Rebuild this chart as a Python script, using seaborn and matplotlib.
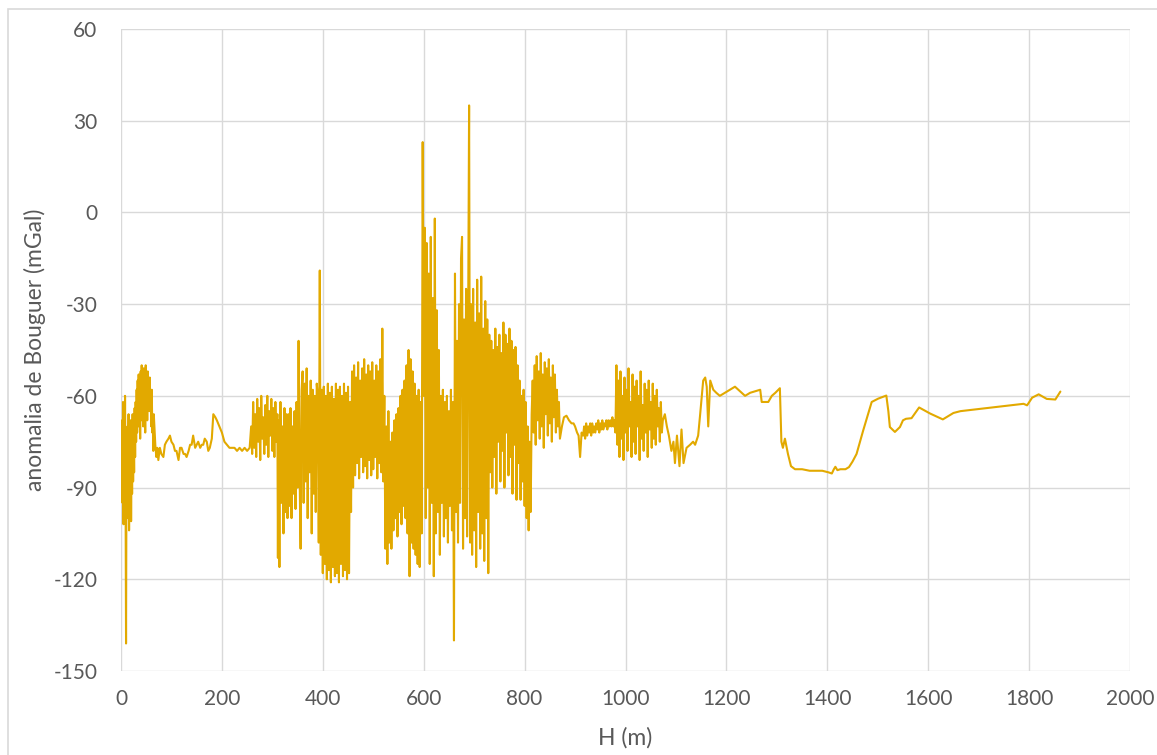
import matplotlib
matplotlib.use("Agg")
import matplotlib.pyplot as plt
import seaborn as sns
import pandas as pd
from matplotlib.patches import Rectangle

# H (m) / Bouguer anomaly (mGal)
h_start = [0, 1, 2, 3, 4, 5, 6, 7, 8, 9, 10, 11, 12, 13, 14, 15, 16, 17, 18, 19, 20,
           21, 22, 23, 24, 25, 26, 27, 28, 29, 30, 31, 32, 33, 34, 35, 36, 37, 38, 39, 40,
           41, 42, 43, 44, 45, 46, 47, 48, 49, 50, 51, 52, 53, 54, 55, 56, 57, 58, 59, 60,
           61, 62, 63, 64, 65]
g_start = [-70, -88, -68, -95, -62, -102, -72, -98, -60, -90, -141, -75, -100, -70, -93,
           -66, -104, -74, -96, -68, -101, -78, -92, -66, -88, -72, -85, -64, -80,
           -62, -75, -58, -72, -55, -70, -53, -66, -56, -74, -52, -68, -50, -64, -55, -70,
           -51, -62, -54, -72, -50, -60, -53, -68, -52, -58, -56, -65, -54, -62, -60, -70,
           -58, -72, -68, -78, -66]

h_flat = [68, 70, 72, 74, 77, 80, 84, 87, 90, 94, 97, 100, 104, 107, 110, 114, 117, 120,
          124, 127, 130, 134, 137, 140, 143, 147, 150, 153, 157, 160, 163, 166, 170, 173,
          176, 180, 183, 187, 190, 195, 200, 205, 210, 215, 220, 225, 230, 235, 240, 245,
          250, 255]
g_flat = [-76, -80, -77, -81, -77, -79, -80, -76, -75, -74, -73, -75, -76, -78, -78, -81,
          -77, -77, -79, -79, -80, -78, -76, -76, -73, -77, -76, -75, -77, -76, -76, -74,
          -75, -78, -77, -74, -66, -67, -68, -70, -72, -75, -76, -77, -77, -77, -78, -77,
          -78, -77, -78, -77]

h_300 = [258, 260, 262, 264, 266, 268, 270, 272, 274, 276, 278, 280, 282, 284, 286, 288,
         290, 292, 294, 296, 298, 300, 302, 304, 306, 308, 310,
         311, 312, 314, 316, 318, 320, 322, 324, 326, 328, 330, 332, 334, 336, 338, 340,
         342, 344, 346, 348, 350, 352, 354, 356, 358]
g_300 = [-70, -79, -62, -77, -66, -80, -61, -75, -64, -81, -60, -74, -67, -79, -63, -76,
         -60, -80, -65, -73, -61, -78, -64, -80, -62, -75, -66,
         -113, -68, -116, -62, -95, -70, -105, -64, -98, -66, -100, -66, -96, -64, -100,
         -70, -92, -65, -97, -62, -90, -42, -85, -110, -58]

h_400 = [360, 362, 364, 366, 368, 370, 372, 374, 376, 378, 380, 382, 384, 386, 388,
         390, 392, 394, 396, 398, 400, 402, 404, 406, 408, 410, 412, 414, 416, 418, 420,
         422, 424, 426, 428, 430, 432, 434, 436, 438, 440, 442, 444, 446, 448, 450, 452, 454,
         456, 458, 460, 462, 464, 466, 468, 470, 472, 474, 476, 478, 480, 482, 484, 486,
         488, 490, 492, 494, 496, 498, 500, 502, 504, 506, 508, 510, 512, 514, 516, 518, 520]
g_400 = [-52, -95, -56, -88, -51, -100, -60, -85, -55, -105, -58, -92, -60, -98, -56,
         -60, -108, -19, -112, -58, -118, -57, -115, -60, -120, -56, -117, -59, -121, -57,
         -116, -61, -119, -56, -118, -58, -121, -57, -115, -60, -119, -56, -117, -59, -120,
         -57, -118, -62,
         -98, -52, -90, -50, -86, -54, -82, -49, -87, -55, -80, -51, -85, -48, -83, -53,
         -87, -50, -81, -52, -86, -49, -84, -55, -80, -50, -87, -52, -82, -48, -85, -38, -88]

h_550 = [522, 524, 526, 528, 530, 532, 534, 536, 538, 540, 542, 544, 546, 548, 550, 552,
         554, 556, 558, 560, 562, 564, 566, 568, 570, 572, 574, 576, 578, 580, 582, 584,
         586, 588, 590, 592, 594, 596]
g_550 = [-60, -110, -70, -115, -65, -108, -75,
         -110, -72, -104, -68, -100, -66, -106, -64, -98, -60, -102, -58, -96, -55, -100,
         -50, -105, -45, -119, -48, -108, -52, -110, -56, -112, -60, -115, -58, -116, -62, -105]

h_peak = [598, 600, 602, 604, 606, 608, 610, 612, 614, 616, 618, 620, 622, 624, 626, 628,
          630, 632, 634, 636, 638, 640, 642, 644, 646, 648, 650, 652, 654, 656, 658, 660,
          662, 664, 666, 668, 670, 672, 674, 676, 678, 680, 682, 684, 686, 688, 690, 692,
          694, 696, 698, 700, 702, 704, 706, 708, 710, 712, 714, 716, 718, 720, 722, 724,
          726, 728, 730,
          732, 734, 736, 738, 740, 742, 744, 746, 748, 750, 752, 754, 756, 758, 760, 762,
          764, 766, 768, 770, 772, 774, 776, 778, 780, 782, 784, 786, 788, 790, 792, 794,
          796, 798, 800]
g_peak = [23, -60, -5, -100, -10, -90, -20, -115, -8, -95, -28, -119, -2, -105, -32, -98,
          -45, -112, -60, -95, -58, -106, -62, -100, -60, -108, -65, -96, -58, -104, -62, -140,
          -20, -98, -42, -108, -30, -95, -15, -8, -110, -35, -100, -25, -106, -40, 35, -108,
          -30, -112, -25, -104, -36, -116, -22, -98, -33, -110, -21, -105, -38, -114, -29, -100,
          -35, -118, -40,
          -85, -42, -90, -45, -80, -38, -92, -44, -75, -40, -88, -46, -78, -36, -90, -40,
          -72, -43, -86, -38, -80, -42, -92, -45, -76, -44, -94, -50, -82, -55, -94, -60,
          -88, -58, -96]

h_850 = [802, 804, 806, 808, 810, 812, 814, 816, 818, 820, 822, 824, 826, 828, 830, 832,
         834, 836, 838, 840, 842, 844, 846, 848, 850, 852, 854, 856, 858, 860, 862, 864,
         866, 868, 870]
g_850 = [-62, -100, -70, -104, -75, -98, -66,
         -55, -72, -50, -76, -47, -68, -52, -74, -46, -70, -53, -77, -49, -66, -51, -73,
         -48, -69, -54, -75, -50, -67, -53, -72, -58, -70, -62, -74]

h_950 = [874, 878, 883, 888, 893, 897, 900, 904, 907, 910, 913,
         916, 918, 920, 922, 924, 926, 928, 930, 932, 934, 936, 938, 940, 942, 944, 946,
         948, 950, 952, 954, 956, 958, 960, 962, 964, 966, 968, 970, 972, 974, 976, 978]
g_950 = [-70, -67, -66.5, -68, -69, -69, -70, -72, -73, -80, -72,
         -73, -70, -74, -69, -73, -70, -72, -69, -73, -69, -72, -70, -72, -69, -71, -68,
         -72, -69, -71, -68, -71, -69, -70, -68, -71, -68, -70, -68, -70, -67, -70, -68]

h_1000 = [980, 982, 984, 986, 988, 990, 992, 994, 996, 998, 1000, 1002, 1004, 1006, 1008,
          1010, 1012, 1014, 1016, 1018, 1020, 1022, 1024, 1026, 1028, 1030, 1032, 1034,
          1036, 1038, 1040, 1042, 1044, 1046, 1048, 1050, 1052, 1054, 1056, 1058, 1060,
          1062, 1064, 1066, 1068, 1070, 1072, 1074]
g_1000 = [-72, -50, -76, -55, -80, -52, -74, -60, -81, -54, -72, -58, -78, -51, -70, -62,
          -80, -53, -75, -57, -79, -55, -70, -60, -81, -52, -74, -63, -78, -56, -72, -58,
          -80, -55, -71, -62, -77, -56, -74, -60, -76, -58, -70, -64, -75, -62, -72, -68]

h_tail = [1078, 1082, 1086, 1091, 1095, 1098, 1102, 1107, 1111, 1115, 1121, 1128, 1134,
          1138, 1144, 1148, 1154, 1158, 1161, 1164, 1168, 1174, 1180, 1187,
          1197, 1207, 1217, 1227, 1237, 1247, 1257, 1267, 1270, 1276, 1283, 1290, 1297,
          1303, 1306, 1309, 1312, 1316, 1322, 1328, 1336, 1350, 1365, 1376, 1390, 1402,
          1409, 1413, 1416, 1420, 1426, 1436, 1443, 1450, 1458, 1471, 1488, 1501, 1517,
          1521, 1524, 1534, 1544, 1550, 1556, 1567, 1582, 1604, 1629, 1650, 1664, 1700,
          1740, 1789, 1796, 1806, 1819, 1835, 1852, 1862]
g_tail = [-66, -70, -73, -78, -75, -82, -73, -83, -71, -82, -77, -76, -75, -76, -73, -66,
          -55, -54, -57, -70, -55, -58, -59, -60,
          -59, -58, -57, -58.5, -60, -59, -58.5, -58, -62, -62, -62, -60, -59, -58, -57.5,
          -75, -77, -74, -79, -83, -84, -84, -84.5, -84.5, -84.5, -85, -85.4, -84, -83.2,
          -84.3, -84, -84, -83.3, -81.5, -79, -71.4, -62, -60.9, -59.9, -65, -70.2, -71.8,
          -70.2, -68, -67.5, -67.3, -63.8, -65.8, -67.7, -65.6, -65, -64.3, -63.5, -62.6,
          -63.1, -60.6, -59.5, -61, -61.2, -58.6]

x_ticks = [0, 200, 400, 600, 800, 1000, 1200, 1400, 1600, 1800, 2000]
y_ticks = [-150, -120, -90, -60, -30, 0, 30, 60]

H = h_start + h_flat + h_300 + h_400 + h_550 + h_peak + h_850 + h_950 + h_1000 + h_tail
G = g_start + g_flat + g_300 + g_400 + g_550 + g_peak + g_850 + g_950 + g_1000 + g_tail
assert len(H) == len(G)
df = pd.DataFrame({"H": H, "anom": G})

sns.set_theme(style="white")
plt.rcParams["font.family"] = ["Lato", "DejaVu Sans"]
plt.rcParams["axes.unicode_minus"] = False

fig = plt.figure(figsize=(11.57, 7.55), dpi=100)
fig.patches.append(Rectangle((8 / 1157, -0.01), 1.02, 1 - 9 / 755 + 0.01,
                             transform=fig.transFigure, fill=False,
                             edgecolor="#d9d9d9", linewidth=1.2))
ax = fig.add_axes([121 / 1157, 1 - 671 / 755, 1009 / 1157, 642 / 755])

sns.lineplot(data=df, x="H", y="anom", sort=False, estimator=None,
             color="#e2a900", linewidth=1.5, ax=ax)

ax.set_xlim(0, 2000)
ax.set_ylim(-150, 60)
ax.set_xticks(x_ticks)
ax.set_yticks(y_ticks)
ax.grid(True, color="#d9d9d9", linewidth=1.0)
for s in ax.spines.values():
    s.set_visible(False)
ax.tick_params(axis="both", length=0, labelsize=15, colors="#595959")
ax.tick_params(axis="x", pad=13)
ax.tick_params(axis="y", pad=17)

ax.set_xlabel("H (m)", fontsize=16.5, color="#595959")
ax.set_ylabel("anomalia de Bouguer (mGal)", fontsize=16.5, color="#595959")
ax.xaxis.set_label_coords(0.5, -0.088)
ax.yaxis.set_label_coords(-0.0743, 0.5)

fig.savefig("out.png", dpi=100)
